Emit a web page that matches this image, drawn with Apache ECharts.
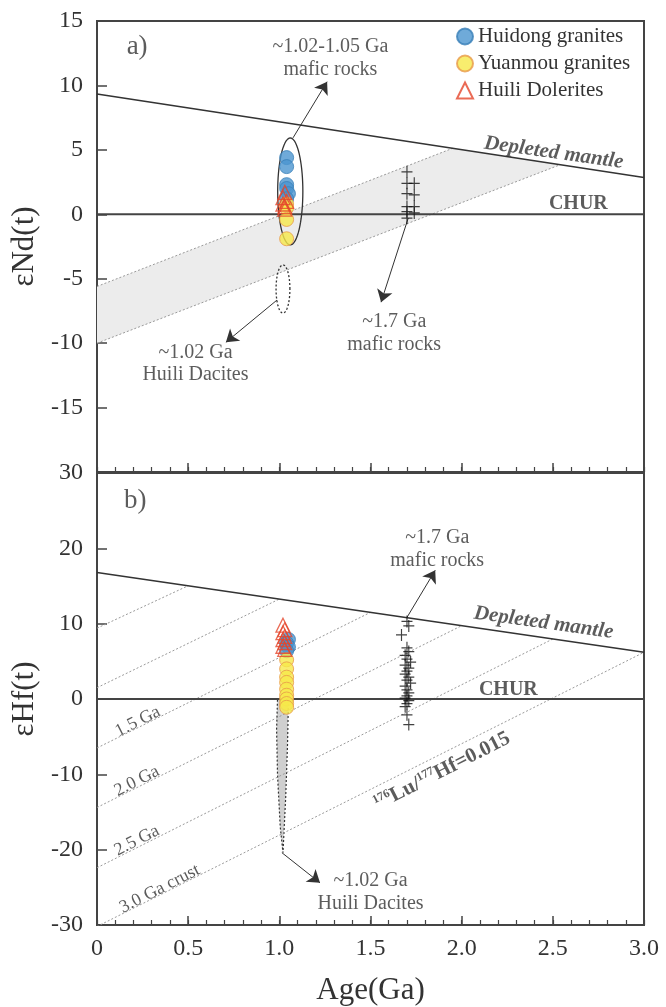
<!DOCTYPE html>
<html><head><meta charset="utf-8">
<script src="https://cdn.jsdelivr.net/npm/echarts@6/dist/echarts.min.js"></script>
<style>html,body{margin:0;padding:0;background:#fff}#c{width:666px;height:1007px}</style>
</head><body><div id="c"></div>
<script>
// ---------- Panel a: εNd(t) ----------
const ndHuidongX = [1.04, 1.04, 1.04, 1.04, 1.05, 1.04];
const ndHuidongY = [4.4, 3.7, 2.3, 2.0, 1.6, 1.2];
const ndYuanmouX = [1.04, 1.04, 1.04, 1.04];
const ndYuanmouY = [0.8, 0.5, -0.4, -1.9];
const ndDoleriteX = [1.03, 1.02, 1.04, 1.02, 1.03, 1.03];
const ndDoleriteY = [1.7, 1.3, 1.0, 0.8, 0.6, 0.4];
const ndMaficX = [1.70, 1.70, 1.70, 1.70, 1.70, 1.70, 1.74, 1.74, 1.74, 1.74];
const ndMaficY = [3.3, 2.4, 1.6, 0.6, 0.2, -0.3, 2.4, 1.5, 0.6, 0.1];
const ndDM_X = [0, 3.0];
const ndDM_Y = [9.33, 2.85];
const ndBandStartY = [-5.6, -10.0];   // band edges at age 0
const ndBandEndX = [1.95, 2.54];      // ages where band edges meet DM
// ellipse: [cx, cy, rx, ry]
const ndMaficEllipse = [1.06, 1.77, 0.069, 4.15];
const ndDaciteEllipse = [1.02, -5.8, 0.038, 1.87];

// ---------- Panel b: εHf(t) ----------
const hfHuidongX = [1.05, 1.04, 1.05, 1.04];
const hfHuidongY = [7.9, 7.4, 6.9, 6.4];
const hfYuanmouX = [1.04, 1.04, 1.04, 1.04, 1.04, 1.04, 1.04, 1.04, 1.04];
const hfYuanmouY = [5.2, 4.0, 2.9, 2.2, 1.3, 0.5, 0.0, -0.6, -1.1];
const hfDoleriteX = [1.02, 1.03, 1.02, 1.03, 1.02, 1.03, 1.02, 1.03];
const hfDoleriteY = [9.8, 9.2, 8.8, 8.3, 7.9, 7.5, 7.0, 6.6];
const hfMaficX = [1.70, 1.71, 1.67, 1.70, 1.71, 1.69, 1.70, 1.72, 1.69, 1.71, 1.70, 1.69, 1.71, 1.70, 1.72, 1.69, 1.70, 1.71, 1.70, 1.69, 1.71, 1.70, 1.69, 1.70, 1.71];
const hfMaficY = [10.3, 9.7, 8.5, 6.8, 6.3, 5.8, 5.3, 4.9, 4.5, 4.1, 3.7, 3.3, 2.9, 2.5, 2.1, 1.7, 1.2, 0.8, 0.4, 0.1, -0.2, -0.6, -1.0, -2.1, -3.4];
const hfDM_X = [0, 3.0];
const hfDM_Y = [16.8, 6.2];
const hfModelAges = [0.5, 1.0, 1.5, 2.0, 2.5, 3.0];
const hfIntercepts = [9.4, 1.5, -6.5, -14.4, -22.4, -30.2];
const hfDaciteX = [0.99, 1.05, 1.045, 1.035, 1.02, 1.005, 0.99, 0.985];
const hfDaciteY = [0.0, 0.0, -6.0, -13.0, -20.4, -17.0, -10.0, -4.0];

// ---------- Axis ticks ----------
const ageTicks = [0, 0.5, 1.0, 1.5, 2.0, 2.5, 3.0];
const ndTicks = [-20, -15, -10, -5, 0, 5, 10, 15];
const hfTicks = [-30, -20, -10, 0, 10, 20, 30];

// ---------- helpers ----------
const SERIF = '"Liberation Serif", "DejaVu Serif", serif';
const TXT = '#333';
const zip = (xs, ys) => xs.map((x, i) => [x, ys[i]]);
const dmAt = (dx, dy, x) => dy[0] + (dy[1] - dy[0]) * (x - dx[0]) / (dx[1] - dx[0]);

const colBlue = '#4b95d0', colYellow = '#f6e84a', colRed = '#e5462c';

function pts(g, name, data, style) {
  return Object.assign({
    type: 'scatter', name, xAxisIndex: g, yAxisIndex: g, data, z: 5, animation: false
  }, style);
}
const blueStyle = { symbol: 'circle', symbolSize: 14, itemStyle: { color: colBlue, borderColor: '#3a7fb8', borderWidth: 1 } };
const yellowStyle = { symbol: 'circle', symbolSize: 14, itemStyle: { color: colYellow, borderColor: '#e89a4a', borderWidth: 1 } };
const redStyle = { symbol: 'triangle', symbolSize: 14, itemStyle: { color: 'rgba(255,255,255,0)', borderColor: colRed, borderWidth: 1.3 } };
const crossStyle = { symbol: 'path://M0,5L10,5M5,0L5,10', symbolSize: [11, 12], itemStyle: { color: 'rgba(0,0,0,0)', borderColor: '#111', borderWidth: 1.2 } };

function line(g, data, style, z) {
  return { type: 'line', xAxisIndex: g, yAxisIndex: g, data, symbol: 'none', silent: true, animation: false, z: z || 3,
    lineStyle: style, clip: true };
}

function ellipse(g, e, dashed, fill) {
  return {
    type: 'custom', xAxisIndex: g, yAxisIndex: g, silent: true, animation: false, z: 4,
    data: [e],
    renderItem: function (params, api) {
      const cx = api.value(0), cy = api.value(1), rx = api.value(2), ry = api.value(3);
      const p = [];
      for (let i = 0; i <= 72; i++) {
        const t = i / 72 * Math.PI * 2;
        p.push(api.coord([cx + rx * Math.cos(t), cy + ry * Math.sin(t)]));
      }
      return { type: 'polygon', shape: { points: p },
        style: { fill: fill || 'none', stroke: '#333', lineWidth: 1.3, lineDash: dashed ? [2, 2] : null } };
    }
  };
}

function polygon(g, points, style, z) {
  return {
    type: 'custom', xAxisIndex: g, yAxisIndex: g, silent: true, animation: false, z: z || 1,
    data: [[0, 0]],
    renderItem: function (params, api) {
      return { type: 'polygon', shape: { points: points.map(q => api.coord(q)) }, style: style };
    }
  };
}

function notes(g, items) {
  return {
    type: 'scatter', xAxisIndex: g, yAxisIndex: g, silent: true, animation: false, z: 6,
    symbolSize: 1, itemStyle: { color: 'rgba(0,0,0,0)' },
    data: items.map(it => ({
      value: [it.x, it.y],
      label: Object.assign({ show: true, position: 'inside', formatter: it.t, color: TXT,
        fontFamily: SERIF, fontSize: 20, lineHeight: 23, align: 'center', verticalAlign: 'middle' }, it.s || {})
    }))
  };
}
function arrows(g, list) {
  return {
    type: 'line', xAxisIndex: g, yAxisIndex: g, data: [], silent: true, animation: false, z: 6,
    lineStyle: { color: '#333' }, itemStyle: { color: '#333' },
    markLine: {
      silent: true, animation: false, symbol: ['none', 'arrow'], symbolSize: 12,
      lineStyle: { color: '#333', width: 1, type: 'solid' }, label: { show: false },
      data: list.map(a => [{ coord: a[0] }, { coord: a[1] }])
    }
  };
}

// ---------- panel a geometry ----------
const bandPoly = [
  [0, ndBandStartY[0]],
  [ndBandEndX[0], dmAt(ndDM_X, ndDM_Y, ndBandEndX[0])],
  [ndBandEndX[1], dmAt(ndDM_X, ndDM_Y, ndBandEndX[1])],
  [0, ndBandStartY[1]]
];
const dotted = { color: '#9a9a9a', width: 1, type: [2, 2] };
const solid = { color: '#333', width: 1.5 };
const dmLabel = { fontWeight: 'bold', fontStyle: 'italic', fontSize: 21, rotate: -8 };
const churLabel = { fontWeight: 'bold', fontSize: 20 };

const series = [];
// panel a
series.push(polygon(0, bandPoly, { fill: '#ececec' }, 1));
series.push(line(0, [bandPoly[0], bandPoly[1]], dotted, 2));
series.push(line(0, [bandPoly[3], bandPoly[2]], dotted, 2));
series.push(line(0, zip(ndDM_X, ndDM_Y), solid));
series.push(line(0, [[0, 0], [3, 0]], { color: '#444', width: 2 }));
series.push(ellipse(0, ndMaficEllipse, false));
series.push(ellipse(0, ndDaciteEllipse, true));
series.push(pts(0, 'Huidong granites', zip(ndHuidongX, ndHuidongY), blueStyle));
series.push(pts(0, 'Yuanmou granites', zip(ndYuanmouX, ndYuanmouY), yellowStyle));
series.push(pts(0, 'Huili Dolerites', zip(ndDoleriteX, ndDoleriteY), redStyle));
series.push(pts(0, 'mafic a', zip(ndMaficX, ndMaficY), crossStyle));
series.push(notes(0, [
  { x: 0.22, y: 13.0, t: 'a)', s: { fontSize: 27 } },
  { x: 1.28, y: 12.1, t: '~1.02-1.05 Ga\nmafic rocks' },
  { x: 0.54, y: -11.6, t: '~1.02 Ga\nHuili Dacites', s: { lineHeight: 22 } },
  { x: 1.63, y: -9.25, t: '~1.7 Ga\nmafic rocks' },
  { x: 2.505, y: 4.77, t: 'Depleted mantle', s: dmLabel },
  { x: 2.64, y: 0.8, t: 'CHUR', s: churLabel }
]));
series.push(arrows(0, [
  [[1.075, 5.93], [1.262, 10.29]],
  [[0.987, -6.66], [0.707, -9.93]],
  [[1.707, -0.29], [1.558, -6.82]]
]));

// panel b
series.push(polygon(1, zip(hfDaciteX, hfDaciteY), { fill: '#cfcfcf', stroke: '#333', lineWidth: 1.2, lineDash: [2, 2] }, 2));
hfModelAges.forEach((T, i) => {
  series.push(line(1, [[0, hfIntercepts[i]], [T, dmAt(hfDM_X, hfDM_Y, T)]], dotted, 2));
});
series.push(line(1, zip(hfDM_X, hfDM_Y), solid));
series.push(line(1, [[0, 0], [3, 0]], { color: '#444', width: 2 }));
series.push(pts(1, 'Huidong granites', zip(hfHuidongX, hfHuidongY), blueStyle));
series.push(pts(1, 'Yuanmou granites', zip(hfYuanmouX, hfYuanmouY), yellowStyle));
series.push(pts(1, 'Huili Dolerites', zip(hfDoleriteX, hfDoleriteY), redStyle));
series.push(pts(1, 'mafic b', zip(hfMaficX, hfMaficY), crossStyle));
const rot = { rotate: 27, fontSize: 18 };
series.push(notes(1, [
  { x: 0.21, y: 26.3, t: 'b)', s: { fontSize: 27 } },
  { x: 1.866, y: 19.9, t: '~1.7 Ga\nmafic rocks' },
  { x: 2.449, y: 10.1, t: 'Depleted mantle', s: dmLabel },
  { x: 2.256, y: 1.23, t: 'CHUR', s: churLabel },
  { x: 0.224, y: -3.0, t: '1.5 Ga', s: rot },
  { x: 0.219, y: -10.9, t: '2.0 Ga', s: rot },
  { x: 0.219, y: -18.8, t: '2.5 Ga', s: rot },
  { x: 0.345, y: -25.2, t: '3.0 Ga crust', s: rot },
  { x: 1.893, y: -9.6, t: '{s|176}{b|Lu/}{s|177}{b|Hf=0.015}', s: { rotate: 27,
      rich: { s: { fontSize: 12, fontFamily: SERIF, color: TXT, fontWeight: 'bold', verticalAlign: 'top', lineHeight: 22 },
              b: { fontSize: 21, fontFamily: SERIF, color: TXT, fontWeight: 'bold', lineHeight: 22 } } } },
  { x: 1.5, y: -25.6, t: '~1.02 Ga\nHuili Dacites' }
]));
series.push(arrows(1, [
  [[1.701, 10.87], [1.855, 17.08]],
  [[1.014, -20.4], [1.223, -24.4]]
]));

function xAxis(g, showLabel) {
  return {
    type: 'value', gridIndex: g, min: ageTicks[0], max: ageTicks[ageTicks.length - 1], interval: 0.5,
    axisLine: { show: true, onZero: false, lineStyle: { color: '#444', width: 2 } },
    axisTick: { show: true, inside: true, length: 9, lineStyle: { color: '#444', width: 1.5 } },
    splitLine: { show: false },
    axisLabel: { show: showLabel, fontFamily: SERIF, fontSize: 24, color: TXT, margin: 12,
      formatter: v => (v === 0 ? '0' : v.toFixed(1)) },
    name: showLabel ? 'Age(Ga)' : '', nameLocation: 'middle', nameGap: 50,
    nameTextStyle: { fontFamily: SERIF, fontSize: 31, color: TXT }
  };
}
// minor tick axis (0.1 Ga steps, inward)
function xMinor(g) {
  return {
    type: 'value', gridIndex: g, min: ageTicks[0], max: ageTicks[ageTicks.length - 1], interval: 0.1,
    position: 'bottom',
    axisLine: { show: false, onZero: false },
    axisTick: { show: true, inside: true, length: 5, lineStyle: { color: '#444', width: 1.2 } },
    axisLabel: { show: false }, splitLine: { show: false }
  };
}
function yAxis(g, ticks, name, hideMin) {
  return {
    type: 'value', gridIndex: g, min: ticks[0], max: ticks[ticks.length - 1], interval: ticks[1] - ticks[0],
    axisLine: { show: true, onZero: false, lineStyle: { color: '#444', width: 2 } },
    axisTick: { show: true, inside: true, length: 10, lineStyle: { color: '#444', width: 1.5 } },
    splitLine: { show: false },
    axisLabel: { fontFamily: SERIF, fontSize: 24, color: TXT, margin: 14,
      formatter: v => (hideMin && v === ticks[0] ? '' : String(v)) },
    name, nameLocation: 'middle', nameGap: 47,
    nameTextStyle: { fontFamily: SERIF, fontSize: 31, color: TXT }
  };
}

const chart = echarts.init(document.getElementById('c'), null, { renderer: 'canvas' });
chart.setOption({
  backgroundColor: '#fff',
  animation: false,
  grid: [
    { left: 97, top: 21, width: 547, height: 451, show: true, borderColor: '#444', borderWidth: 2, backgroundColor: 'rgba(0,0,0,0)' },
    { left: 97, top: 473, width: 547, height: 454, show: true, borderColor: '#444', borderWidth: 2, backgroundColor: 'rgba(0,0,0,0)' }
  ],
  legend: {
    data: ['Huidong granites', 'Yuanmou granites', 'Huili Dolerites'],
    orient: 'vertical', left: 451, top: 21, itemWidth: 16, itemHeight: 16, itemGap: 6,
    selectedMode: false,
    textStyle: { fontFamily: SERIF, fontSize: 21, color: TXT }
  },
  xAxis: [xAxis(0, false), xAxis(1, true), xMinor(0), xMinor(1)],
  yAxis: [yAxis(0, ndTicks, 'εNd(t)', true), yAxis(1, hfTicks, 'εHf(t)', false)],
  series
});
</script>
</body></html>
